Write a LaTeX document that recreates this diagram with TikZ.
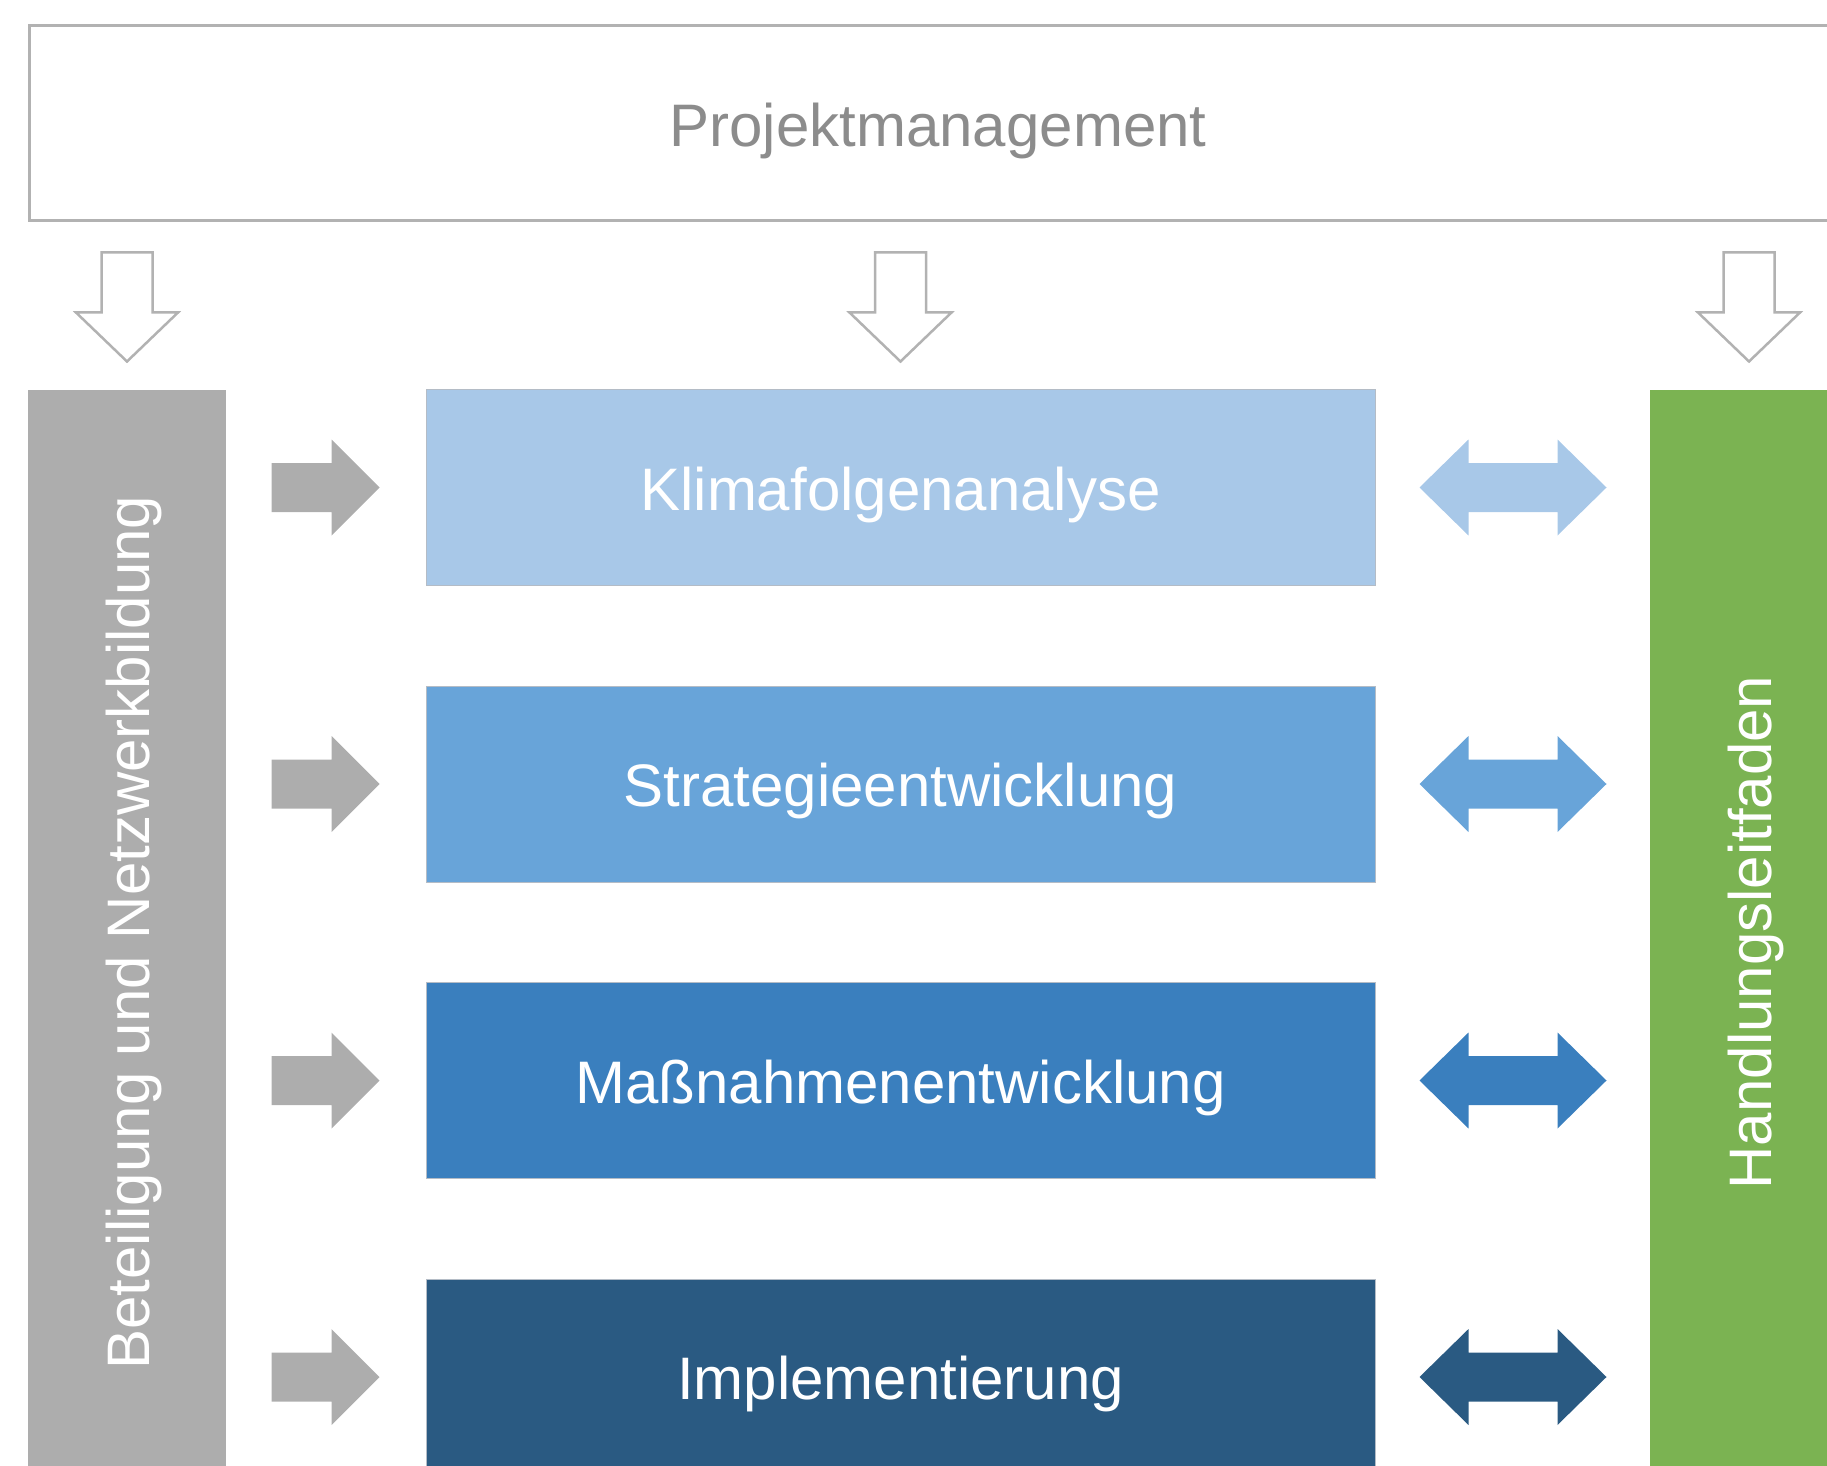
\documentclass[tikz,border=0pt]{standalone}
\usepackage{fontspec}
\setmainfont{Liberation Sans}
\usetikzlibrary{calc}

\definecolor{pmline}{HTML}{B2B2B2}
\definecolor{pmtext}{HTML}{8C8C8C}
\definecolor{colgray}{HTML}{ADADAD}
\definecolor{colgreen}{HTML}{7BB352}
\definecolor{rowA}{HTML}{A8C8E8}
\definecolor{rowB}{HTML}{68A4D9}
\definecolor{rowC}{HTML}{3A7FBE}
\definecolor{rowD}{HTML}{2A5A82}
\definecolor{rowedge}{HTML}{B4BCC6}

\begin{document}
\begin{tikzpicture}[
  x=0.5pt, y=-0.5pt,
  bigfont/.style={font=\fontsize{30}{36}\selectfont, text height=22.8pt, text depth=0pt},
  pmbox/.style={draw=pmline, line width=1.5pt, fill=white, inner sep=0pt,
    minimum width=908.5pt, minimum height=97.75pt, text=pmtext, bigfont},
  column/.style={inner sep=0pt, minimum width=542.5pt, minimum height=99pt,
    text=white, bigfont, rotate=90},
  rowbox/.style={draw=rowedge, line width=0.5pt, inner sep=0pt,
    minimum width=474.5pt, minimum height=98pt, text=white, bigfont},
  downarrow/.pic={
    \path[pic actions] (-25.5,0) -- (25.5,0) -- (25.5,60) -- (51,60)
      -- (0,109) -- (-51,60) -- (-25.5,60) -- cycle;
  },
  rightarrow/.pic={
    \path[pic actions] (0,-24.5) -- (60,-24.5) -- (60,-48) -- (108,0)
      -- (60,48) -- (60,24.5) -- (0,24.5) -- cycle;
  },
  dblarrow/.pic={
    \path[pic actions] (0,0) -- (49,-48) -- (49,-24.5) -- (138,-24.5)
      -- (138,-48) -- (187,0) -- (138,48) -- (138,24.5) -- (49,24.5)
      -- (49,48) -- cycle;
  },
  outlined/.style={draw=pmline, line width=1.25pt, fill=white, line join=miter},
]
\useasboundingbox (0,0) rectangle (1827,1466);
\clip (0,0) rectangle (1827,1466);

% project management frame across the top
\node[pmbox] (pm) at (938,123.25) {Projektmanagement};

% side columns
\node[column, fill=colgray] (teil) at (127,932.5) {Beteiligung und Netzwerkbildung};
\node[column, fill=colgreen] (leit) at (1749,932.5) {Handlungsleitfaden};

% work packages
\node[rowbox, fill=rowA] (k1) at (900.5,487.5) {Klimafolgenanalyse};
\node[rowbox, fill=rowB] (k2) at (900.5,784) {Strategieentwicklung};
\node[rowbox, fill=rowC] (k3) at (900.5,1080.5) {Maßnahmenentwicklung};
\node[rowbox, fill=rowD] (k4) at (900.5,1377) {Implementierung};

% outlined arrows from the management frame
\pic[outlined] at ($(pm.south -| teil.center)+(0,30)$) {downarrow};
\pic[outlined] at ($(pm.south -| k1.center)+(0,30)$) {downarrow};
\pic[outlined] at ($(pm.south -| leit.center)+(0,30)$) {downarrow};

% participation arrows into each package
\foreach \k in {k1,k2,k3,k4}{
  \pic[fill=colgray] at ($(\k.west)+(-154,0)$) {rightarrow};
}

% exchange with the guideline
\pic[fill=rowA] at ($(k1.east)+(44,0)$) {dblarrow};
\pic[fill=rowB] at ($(k2.east)+(44,0)$) {dblarrow};
\pic[fill=rowC] at ($(k3.east)+(44,0)$) {dblarrow};
\pic[fill=rowD] at ($(k4.east)+(44,0)$) {dblarrow};
\end{tikzpicture}
\end{document}
